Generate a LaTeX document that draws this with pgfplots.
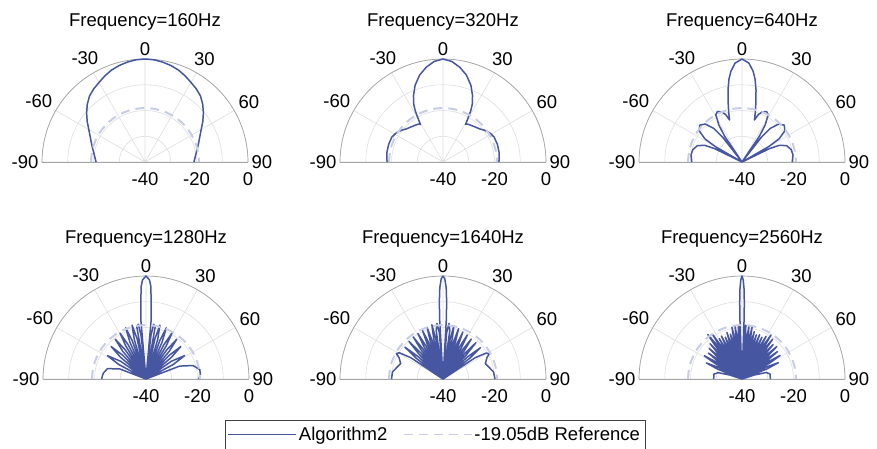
\documentclass[border=0pt]{standalone}
\usepackage{pgfplots}
\pgfplotsset{compat=1.18}
\usepackage{pgfplotstable}
\usepgfplotslibrary{polar}
\usepackage{fontspec}
\setmainfont{Liberation Sans}
\definecolor{algo}{RGB}{70,86,160}
\definecolor{refc}{RGB}{200,205,230}
\definecolor{gridc}{RGB}{222,222,222}
\definecolor{axc}{RGB}{165,165,165}

\pgfplotstableread{
a d
-90 -19.05
-84 -19.05
-78 -19.05
-72 -19.05
-66 -19.05
-60 -19.05
-54 -19.05
-48 -19.05
-42 -19.05
-36 -19.05
-30 -19.05
-24 -19.05
-18 -19.05
-12 -19.05
-6 -19.05
0 -19.05
6 -19.05
12 -19.05
18 -19.05
24 -19.05
30 -19.05
36 -19.05
42 -19.05
48 -19.05
54 -19.05
60 -19.05
66 -19.05
72 -19.05
78 -19.05
84 -19.05
90 -19.05
}\tabRef

\pgfplotstableread{
a d
-90 -21.0
-85 -20.5
-80 -19.8
-75 -18.9
-70 -17.8
-65 -16.5
-60 -14.8
-55 -12.6
-50 -10.4
-45 -8.3
-40 -6.5
-35 -5.3
-30 -4.3
-25 -3.1
-20 -2.0
-15 -1.2
-10 -0.6
-5 -0.15
0 0
5 -0.15
10 -0.6
15 -1.2
20 -2.0
25 -3.1
30 -4.3
35 -5.3
40 -6.5
45 -8.3
50 -10.4
55 -12.6
60 -14.8
65 -16.5
70 -17.8
75 -18.9
80 -19.8
85 -20.5
90 -21.0
}\tabA

\pgfplotstableread{
a d
-90 -18.3
-86 -18.1
-80 -17.9
-72 -17.8
-64 -17.9
-58 -18.6
-53 -19.6
-48 -20.8
-42 -21.6
-36 -22.2
-32.5 -22.5
-31 -23
-30 -21
-28.5 -17.5
-27 -15
-24 -11.8
-20 -8.3
-15 -5.0
-10 -2.6
-5 -0.8
0 0
5 -0.8
10 -2.6
15 -5.0
20 -8.3
24 -11.8
27 -15
28.5 -17.5
30 -21
31 -23
32.5 -22.5
36 -22.2
42 -21.6
48 -20.8
53 -19.6
58 -18.6
64 -17.9
72 -17.8
80 -17.9
86 -18.1
90 -18.3
}\tabB

\pgfplotstableread{
a d
-90 -20.5
-82 -20
-76 -20.3
-70 -21.5
-66 -24
-64 -28
-62 -40
-60 -28
-58 -23
-54 -19.5
-49 -18.2
-44 -19.5
-40 -23
-38 -28
-36 -40
-34 -28
-32 -23
-29 -19
-26 -18.2
-22 -19
-19 -20.5
-16.5 -23
-15 -20
-13 -16
-11 -11.5
-9 -7.5
-7 -4.5
-4 -1.5
0 0
4 -1.5
7 -4.5
9 -7.5
11 -11.5
13 -16
15 -20
16.5 -23
19 -20.5
22 -19
26 -18.2
29 -19
32 -23
34 -28
36 -40
38 -28
40 -23
44 -19.5
49 -18.2
54 -19.5
58 -23
60 -28
62 -40
64 -28
66 -24
70 -21.5
76 -20.3
82 -20
90 -20.5
}\tabC

\pgfplotstableread{
a d
-90 -22.8
-86 -23
-82 -23.3
-75 -24.5
-69 -29
-65.5 -40
-62 -28
-58.8 -22.5
-55 -28
-52.2 -40
-49.5 -27
-47 -21.5
-44.5 -27
-42 -40
-40 -26
-37.7 -20.5
-35.5 -26
-33.4 -40
-31.5 -25
-29.5 -19.5
-27.5 -25
-25.5 -40
-23.6 -24.5
-21.7 -18.6
-19.8 -24
-18 -40
-16.5 -24
-14.5 -18.4
-12.5 -24
-11 -40
-10 -19.5
-8 -18.5
-6.5 -23
-5.5 -40
-5 -17
-4 -11
-3 -4
-2 -1.5
0 0
2 -1.5
3 -4
4 -11
5 -17
5.5 -40
6.5 -23
8 -18.5
10 -19.5
11 -40
12.5 -24
14.5 -18.4
16.5 -24
18 -40
19.8 -24
21.7 -18.6
23.6 -24.5
25.5 -40
27.5 -25
29.5 -19.5
31.5 -25
33.4 -40
35.5 -26
37.7 -20.5
40 -26
42 -40
44.5 -27
47 -21.5
49.5 -27
52.2 -40
55 -28
58.8 -22.5
62 -28
65.5 -40
69 -26
74 -21
80 -18.8
85 -18.8
90 -19.5
}\tabD

\pgfplotstableread{
a d
-90 -20.0
-82 -20.2
-76 -21.5
-70 -22.5
-64 -21
-61.5 -19.4
-59 -20.2
-56.5 -25
-54.3 -40
-52.2 -27
-50.1 -20.7
-48 -27
-45.9 -40
-44 -26.5
-42.2 -20.3
-40.4 -26.5
-38.6 -40
-37 -26
-35.3 -20
-33.7 -26
-32 -40
-30.5 -25.5
-28.9 -19.8
-27.3 -25.5
-25.8 -40
-24.3 -25
-22.9 -19.5
-21.5 -25
-20 -40
-18.6 -24.5
-17.2 -19
-15.8 -24.5
-14.4 -40
-13 -24
-11.6 -18.5
-10.2 -24
-8.9 -40
-8 -21
-6.2 -18.3
-4.5 -22
-3.5 -40
-3.2 -17
-2.7 -10
-2 -4.5
-1 -1
0 0
1 -1
2 -4.5
2.7 -10
3.2 -17
3.5 -40
4.5 -22
6.2 -18.3
8 -21
8.9 -40
10.2 -24
11.6 -18.8
13 -24
14.4 -40
15.8 -25
17.2 -19.5
18.6 -25
20 -40
21.5 -25.5
22.9 -20.2
24.3 -25.5
25.8 -40
27.3 -26
28.9 -20.5
30.5 -26
32 -40
33.7 -26.5
35.3 -21
37 -26.5
38.6 -40
40.4 -27
42.2 -21
44 -27
45.9 -40
48 -27
50.1 -21
52.2 -27
54.3 -40
56.5 -25
59 -20.4
61.5 -19.6
64 -21
70 -22.5
76 -21.5
82 -20.2
90 -19.8
}\tabE

\pgfplotstableread{
a d
-90 -29
-85 -29
-80 -28.9
-75 -30.5
-72 -35
-70.05 -40
-67.9 -29.8
-65.8 -24.8
-63.7 -29.8
-61.64 -40
-60.0 -27.8
-58.3 -22.8
-56.7 -27.8
-55.08 -40
-53.7 -28.5
-52.3 -23.5
-50.9 -28.5
-49.46 -40
-48.2 -27.5
-47.0 -22.5
-45.7 -27.5
-44.43 -40
-43.3 -26.5
-42.1 -21.5
-41.0 -26.5
-39.79 -40
-38.7 -23.2
-37.6 -18.2
-36.5 -23.2
-35.45 -40
-34.4 -24.3
-33.4 -19.3
-32.4 -24.3
-31.33 -40
-30.3 -27
-29.4 -22
-28.4 -27
-27.39 -40
-26.4 -26.5
-25.5 -21.5
-24.5 -26.5
-23.58 -40
-22.6 -27.5
-21.7 -22.5
-20.8 -27.5
-19.88 -40
-19.0 -26
-18.0 -21
-17.2 -26
-16.26 -40
-15.4 -27
-14.5 -22
-13.6 -27
-12.71 -40
-11.85 -24.5
-11.0 -19.5
-10.1 -24.5
-9.21 -40
-8.35 -24.2
-7.5 -19.2
-6.6 -24.2
-5.74 -40
-4.9 -24
-4.0 -19
-3.15 -24
-2.29 -40
-2.0 -16
-1.7 -10
-1.3 -5
-0.7 -1.5
0 0
0.7 -1.5
1.3 -5
1.7 -10
2.0 -16
2.29 -40
3.15 -24
4.0 -19
4.9 -24
5.74 -40
6.6 -24
7.5 -19
8.35 -24
9.21 -40
10.1 -24.3
11.0 -19.3
11.85 -24.3
12.71 -40
13.6 -26
14.5 -21
15.4 -26
16.26 -40
17.2 -27
18.0 -22
19.0 -27
19.88 -40
20.8 -26.5
21.7 -21.5
22.6 -26.5
23.58 -40
24.5 -27
25.5 -22
26.4 -27
27.39 -40
28.4 -26
29.4 -21
30.3 -26
31.33 -40
32.4 -24.5
33.4 -19.5
34.4 -24.5
35.45 -40
36.5 -25.5
37.6 -20.5
38.7 -25.5
39.79 -40
41.0 -27
42.1 -22
43.3 -27
44.43 -40
45.7 -26.5
47.0 -21.5
48.2 -26.5
49.46 -40
50.9 -27.6
52.3 -22.6
53.7 -27.6
55.08 -40
56.7 -27.6
58.3 -22.6
60.0 -27.6
61.64 -40
63.7 -29.5
65.8 -24.5
67.9 -29.5
70.05 -40
72 -35
75 -30.2
80 -28.9
85 -29
90 -29
}\tabF

\pgfplotsset{
  beam/.style={
    scale only axis, width=206pt,
    xmin=0, xmax=180, ymin=0, ymax=40,
    xtick={0,30,...,180}, xticklabels={90,60,30,0,-30,-60,-90},
    ytick={0,10,20,30,40}, yticklabels={-40,,-20,,0},
    grid=major, major grid style={draw=gridc, line width=0.6pt},
    axis line style={draw=axc, line width=0.7pt},
    major tick length=0pt,
    tick label style={font=\fontsize{18.5}{22}\selectfont},
    yticklabel style={anchor=north, yshift=-7pt},
    title style={font=\fontsize{18.5}{22}\selectfont, at={(0.5,1)}, anchor=center, yshift=23pt},
    clip=false,
    anchor=origin,
  },
  algoline/.style={algo, line width=1.5pt, line join=round},
  refline/.style={refc, line width=2pt, dash pattern=on 9pt off 6pt},
}

\begin{document}
\begin{tikzpicture}
\useasboundingbox (0pt,0pt) rectangle (877pt,-448pt);

\begin{polaraxis}[beam, at={(145pt,-162pt)}, title={Frequency=160Hz}]
\addplot[algoline] table[x expr=90-\thisrow{a}, y expr=\thisrow{d}+40] {\tabA};
\addplot[refline] table[x expr=90-\thisrow{a}, y expr=\thisrow{d}+40] {\tabRef};
\end{polaraxis}

\begin{polaraxis}[beam, at={(443pt,-162pt)}, title={Frequency=320Hz}]
\addplot[algoline] table[x expr=90-\thisrow{a}, y expr=\thisrow{d}+40] {\tabB};
\addplot[refline] table[x expr=90-\thisrow{a}, y expr=\thisrow{d}+40] {\tabRef};
\end{polaraxis}

\begin{polaraxis}[beam, at={(742pt,-162pt)}, title={Frequency=640Hz}]
\addplot[algoline] table[x expr=90-\thisrow{a}, y expr=\thisrow{d}+40] {\tabC};
\addplot[refline] table[x expr=90-\thisrow{a}, y expr=\thisrow{d}+40] {\tabRef};
\end{polaraxis}

\begin{polaraxis}[beam, at={(146pt,-379pt)}, title={Frequency=1280Hz}]
\addplot[algoline] table[x expr=90-\thisrow{a}, y expr=\thisrow{d}+40] {\tabD};
\addplot[refline] table[x expr=90-\thisrow{a}, y expr=\thisrow{d}+40] {\tabRef};
\end{polaraxis}

\begin{polaraxis}[beam, at={(443pt,-379pt)}, title={Frequency=1640Hz},
  legend columns=2,
  legend style={at={(0.5,0)}, anchor=north, xshift=-8pt, yshift=-41pt,
    draw=black!75, line width=0.6pt, font=\fontsize{18.5}{22}\selectfont,
    inner ysep=5pt,
    /tikz/every even column/.append style={column sep=14pt}},
  legend image code/.code={\draw[#1, line width=1pt] (0pt,0pt) -- (68pt,0pt);}]
\addplot[algoline] table[x expr=90-\thisrow{a}, y expr=\thisrow{d}+40] {\tabE};
\addlegendentry{Algorithm2}
\addplot[refline] table[x expr=90-\thisrow{a}, y expr=\thisrow{d}+40] {\tabRef};
\addlegendentry{-19.05dB Reference}
\end{polaraxis}

\begin{polaraxis}[beam, at={(742pt,-379pt)}, title={Frequency=2560Hz}]
\addplot[algoline] table[x expr=90-\thisrow{a}, y expr=\thisrow{d}+40] {\tabF};
\addplot[refline] table[x expr=90-\thisrow{a}, y expr=\thisrow{d}+40] {\tabRef};
\end{polaraxis}

\end{tikzpicture}
\end{document}
